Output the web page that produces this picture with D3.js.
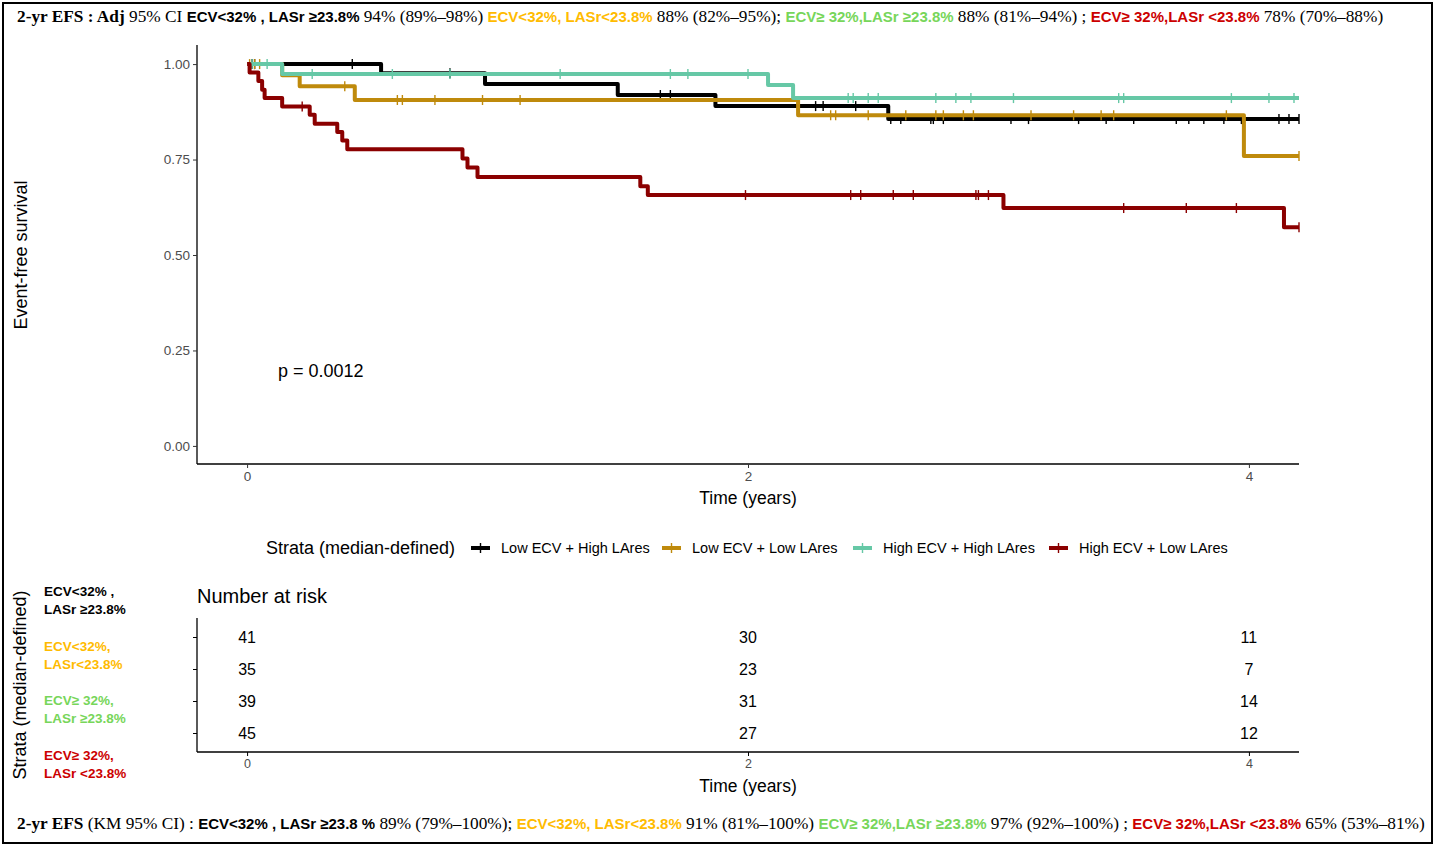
<!DOCTYPE html>
<html>
<head>
<meta charset="utf-8">
<script src="https://cdn.jsdelivr.net/npm/d3@7"></script>
<style>
  body{margin:0;background:#fff;}
  text{font-family:"Liberation Sans",Arial,sans-serif;}
  .tick text{fill:#4d4d4d;}
</style>
</head>
<body>
<svg id="chart"></svg>
<script>
// strata names and colours
var strata=['Low ECV + High LAres','Low ECV + Low LAres','High ECV + High LAres','High ECV + Low LAres'];
var lineColors=['#000000','#bf8a0c','#66c8a6','#8b0000'];
var labelColors=['#000000','#ffbb00','#77d65a','#cc0000'];
var stratLabels=[['ECV<32% ,','LASr \u226523.8%'],['ECV<32%,','LASr<23.8%'],['ECV\u2265 32%,','LASr \u226523.8%'],['ECV\u2265 32%,','LASr <23.8%']];

// KM steps [time, survival]
var stepsLowHigh=[[0,1],[0.535,0.976],[0.95,0.948],[1.48,0.919],[1.87,0.89],[2.56,0.856]];
var stepsLowLow=[[0,1],[0.14,0.971],[0.21,0.942],[0.43,0.906],[2.2,0.866],[3.98,0.759]];
var stepsHighHigh=[[0,1],[0.14,0.974],[2.08,0.945],[2.18,0.911]];
var stepsHighLow=[[0,1],[0.01,0.978],[0.045,0.956],[0.06,0.933],[0.07,0.911],[0.14,0.889],[0.25,0.867],[0.27,0.844],[0.36,0.822],[0.38,0.80],[0.40,0.777],[0.86,0.753],[0.88,0.729],[0.92,0.704],[1.57,0.68],[1.60,0.657],[3.02,0.623],[4.14,0.573]];

// censoring times
var censLowHigh=[0.02,0.03,0.42,0.81,1.65,1.69,2.27,2.30,2.43,2.57,2.61,2.73,2.74,2.78,3.05,3.12,3.32,3.43,3.54,3.71,3.76,3.82,3.90,3.97,4.12,4.16,4.2];
var censLowLow=[0.01,0.03,0.05,0.39,0.60,0.62,0.75,0.94,1.09,2.33,2.35,2.48,2.63,2.75,2.78,2.86,2.90,3.13,3.30,3.41,3.46,3.91,4.2];
var censHighHigh=[0.02,0.08,0.26,0.58,0.81,1.25,1.69,1.76,2.0,2.40,2.42,2.48,2.52,2.75,2.83,2.89,3.06,3.48,3.50,3.93,4.08,4.18];
var censHighLow=[0.22,1.99,2.41,2.45,2.58,2.66,2.91,2.92,2.96,3.50,3.75,3.95,4.2];

var endTime=4.2;
var xTicks=[0,2,4];
var yTicks=[0,0.25,0.5,0.75,1];

// number at risk
var riskTimes=[0,2,4];
var riskLowHigh=[41,30,11];
var riskLowLow=[35,23,7];
var riskHighHigh=[39,31,14];
var riskHighLow=[45,27,12];

var pValue='p = 0.0012';

var allSteps=[stepsLowHigh,stepsLowLow,stepsHighHigh,stepsHighLow];
var allCens=[censLowHigh,censLowLow,censHighHigh,censHighLow];
var allRisk=[riskLowHigh,riskLowLow,riskHighHigh,riskHighLow];

var width=1436,height=847;
var svg=d3.select('#chart').attr('width',width).attr('height',height);

svg.append('rect').attr('x',3).attr('y',3).attr('width',1429).attr('height',840)
    .attr('fill','none').attr('stroke','#000').attr('stroke-width',2);

var xScale=d3.scaleLinear().domain([-0.2,4.2]).range([197,1299]);
var yScale=d3.scaleLinear().domain([-0.05,1.05]).range([465,45]);

function survAt(steps,t){
    var s=1;
    steps.forEach(function(d){ if(d[0]<=t) s=d[1]; });
    return s;
}

// axes
var xAxis=d3.axisBottom(xScale).tickValues(xTicks).tickFormat(d3.format('d')).tickSizeOuter(0).tickSize(4);
var yAxis=d3.axisLeft(yScale).tickValues(yTicks).tickFormat(d3.format('.2f')).tickSizeOuter(0).tickSize(4);

var gx=svg.append('g').attr('transform','translate(0,464)').call(xAxis);
var gy=svg.append('g').attr('transform','translate(197,0)').call(yAxis);
[gx,gy].forEach(function(g){
    g.select('.domain').attr('stroke','#000').attr('stroke-width',1.3);
    g.selectAll('.tick line').attr('stroke','#333');
    g.selectAll('.tick text').attr('font-size',13.5).attr('font-family','Liberation Sans, Arial, sans-serif');
});
gx.select('.domain').attr('d','M197,0H1299');
gy.select('.domain').attr('d','M0,45V464');

svg.append('text').attr('x',748).attr('y',504).attr('text-anchor','middle')
    .attr('font-size',17.5).text('Time (years)');
svg.append('text').attr('transform','translate(27,255) rotate(-90)').attr('text-anchor','middle')
    .attr('font-size',18).text('Event-free survival');

// curves
var linePath=d3.line()
    .x(function(d){ return xScale(d[0]); })
    .y(function(d){ return yScale(d[1]); })
    .curve(d3.curveStepAfter);

allSteps.forEach(function(steps,i){
    var pts=steps.concat([[endTime,steps[steps.length-1][1]]]);
    svg.append('path')
        .attr('d',linePath(pts))
        .attr('fill','none')
        .attr('stroke',lineColors[i])
        .attr('stroke-width',4)
        .attr('stroke-linejoin','round');
    svg.append('g').selectAll('line')
        .data(allCens[i])
        .enter()
        .append('line')
        .attr('x1',function(d){ return xScale(d); })
        .attr('x2',function(d){ return xScale(d); })
        .attr('y1',function(d){ return yScale(survAt(steps,d))-5; })
        .attr('y2',function(d){ return yScale(survAt(steps,d))+5; })
        .attr('stroke',lineColors[i])
        .attr('stroke-width',1.4);
});

svg.append('text').attr('x',278).attr('y',377).attr('font-size',18).text(pValue);

// legend
svg.append('text').attr('x',266).attr('y',554).attr('font-size',18).text('Strata (median-defined)');
var legendX=[471,662,853,1049];
strata.forEach(function(s,i){
    var lx=legendX[i];
    svg.append('line').attr('x1',lx).attr('x2',lx+19).attr('y1',548).attr('y2',548)
        .attr('stroke',lineColors[i]).attr('stroke-width',4);
    svg.append('line').attr('x1',lx+9.5).attr('x2',lx+9.5).attr('y1',543).attr('y2',553)
        .attr('stroke',lineColors[i]).attr('stroke-width',1.4);
    svg.append('text').attr('x',lx+30).attr('y',553).attr('font-size',14.5).text(s);
});

// risk table
svg.append('text').attr('x',197).attr('y',603).attr('font-size',20).text('Number at risk');
var rowY=d3.scalePoint().domain(d3.range(4)).range([637,733]);
var gr=svg.append('g').attr('transform','translate(197,0)')
    .call(d3.axisLeft(rowY).tickFormat('').tickSize(4).tickSizeOuter(0));
gr.select('.domain').attr('d','M0,618V752').attr('stroke','#000').attr('stroke-width',1.3);
var gr2=svg.append('g').attr('transform','translate(0,752)')
    .call(d3.axisBottom(xScale).tickValues(xTicks).tickFormat(d3.format('d')).tickSize(4).tickSizeOuter(0));
gr2.select('.domain').attr('d','M197,0H1299').attr('stroke','#000').attr('stroke-width',1.3);
gr2.selectAll('.tick text').attr('font-size',12.5).attr('font-family','Liberation Sans, Arial, sans-serif');
svg.append('text').attr('x',748).attr('y',792).attr('text-anchor','middle')
    .attr('font-size',17.5).text('Time (years)');

allRisk.forEach(function(r,i){
    svg.append('g').selectAll('text')
        .data(r)
        .enter()
        .append('text')
        .attr('x',function(d,j){ return xScale(riskTimes[j]); })
        .attr('y',rowY(i)+6)
        .attr('text-anchor','middle')
        .attr('font-size',16)
        .text(function(d){ return d; });
});

svg.append('text').attr('transform','translate(26,685) rotate(-90)').attr('text-anchor','middle')
    .attr('font-size',18).text('Strata (median-defined)');

stratLabels.forEach(function(lab,i){
    var t=svg.append('text').attr('font-size',13.5).attr('font-weight','bold').attr('fill',labelColors[i]);
    t.append('tspan').attr('x',44).attr('y',596+i*54.5).text(lab[0]);
    t.append('tspan').attr('x',44).attr('y',614+i*54.5).text(lab[1]);
});

// header / footer text
var serif='Liberation Serif, Times New Roman, serif';
var sans='Liberation Sans, Arial, sans-serif';
var headerParts=[
    ['2-yr EFS : Adj ',serif,'bold','#000'],
    ['95% CI ',serif,'normal','#000'],
    ['ECV<32% , LASr \u226523.8% ',sans,'bold','#000'],
    ['94% (89%\u201398%) ',serif,'normal','#000'],
    ['ECV<32%, LASr<23.8% ',sans,'bold',labelColors[1]],
    ['88% (82%\u201395%); ',serif,'normal','#000'],
    ['ECV\u2265 32%,LASr \u226523.8% ',sans,'bold',labelColors[2]],
    ['88% (81%\u201394%) ; ',serif,'normal','#000'],
    ['ECV\u2265 32%,LASr <23.8% ',sans,'bold',labelColors[3]],
    ['78% (70%\u201388%)',serif,'normal','#000']
];
var footerParts=[
    ['2-yr EFS ',serif,'bold','#000'],
    ['(KM 95% CI) : ',serif,'normal','#000'],
    ['ECV<32% , LASr \u226523.8 % ',sans,'bold','#000'],
    ['89% (79%\u2013100%); ',serif,'normal','#000'],
    ['ECV<32%, LASr<23.8% ',sans,'bold',labelColors[1]],
    ['91% (81%\u2013100%) ',serif,'normal','#000'],
    ['ECV\u2265 32%,LASr \u226523.8% ',sans,'bold',labelColors[2]],
    ['97% (92%\u2013100%) ; ',serif,'normal','#000'],
    ['ECV\u2265 32%,LASr <23.8% ',sans,'bold',labelColors[3]],
    ['65% (53%\u201381%)',serif,'normal','#000']
];
function richLine(parts,y){
    var t=svg.append('text').attr('x',17).attr('y',y).attr('xml:space','preserve');
    parts.forEach(function(p){
        t.append('tspan')
            .attr('font-family',p[1])
            .attr('font-weight',p[2])
            .attr('font-size',p[1]===sans?15:17.3)
            .attr('fill',p[3])
            .text(p[0]);
    });
}
richLine(headerParts,22);
richLine(footerParts,829);
</script>
</body>
</html>
